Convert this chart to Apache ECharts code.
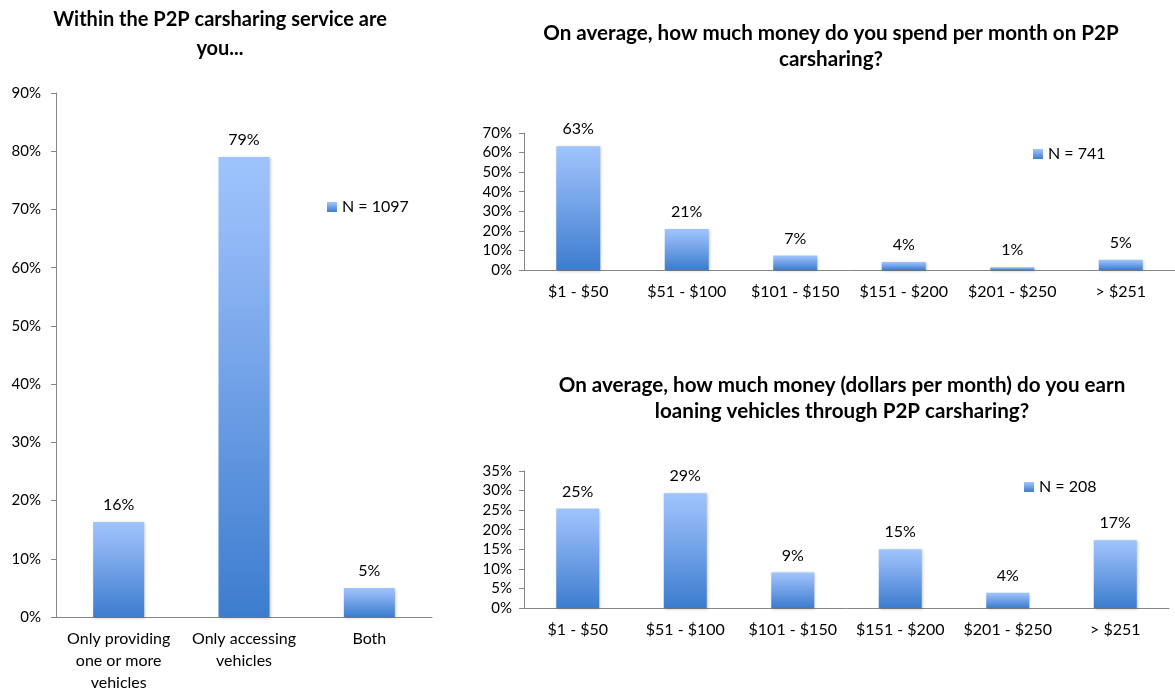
<!DOCTYPE html>
<html>
<head>
<meta charset="utf-8">
<script src="https://cdn.jsdelivr.net/npm/echarts@6/dist/echarts.min.js"></script>
<style>
  html, body { margin: 0; padding: 0; background: #fff; }
  #chart { width: 1175px; height: 694px; }
</style>
</head>
<body>
<div id="chart"></div>
<script>
// 角色分布 (左图)
var roleCategories = ["Only providing\none or more\nvehicles", "Only accessing\nvehicles", "Both"];
var roleValues = [16.3, 79, 5];

// 每月花费 (右上)
var spendCategories = ["$1 - $50", "$51 - $100", "$101 - $150", "$151 - $200", "$201 - $250", "> $251"];
var spendValues = [63.2, 21, 7.4, 4.1, 1.4, 5.2];

// 每月收入 (右下)
var earnCategories = ["$1 - $50", "$51 - $100", "$101 - $150", "$151 - $200", "$201 - $250", "> $251"];
var earnValues = [25.4, 29.3, 9.1, 15, 3.9, 17.3];

var FONT = "Lato, 'Open Sans', sans-serif";
var AXIS_COLOR = "#868686";

var chart = echarts.init(document.getElementById("chart"));

var barColor = {
  type: "linear", x: 0, y: 0, x2: 0, y2: 1,
  colorStops: [
    { offset: 0, color: "#9EC4FD" },
    { offset: 0.15, color: "#94BAF7" },
    { offset: 1, color: "#3C7CCE" },
  ],
};

function xAxisOf(gridIndex, data) {
  return {
    type: "category",
    gridIndex: gridIndex,
    data: data,
    axisLine: { lineStyle: { color: AXIS_COLOR } },
    axisTick: { length: 5, lineStyle: { color: AXIS_COLOR } },
    axisLabel: { color: "#000", fontSize: 16, fontFamily: FONT, margin: 11, lineHeight: 22, interval: 0 },
  };
}

function yAxisOf(gridIndex, max, interval, margin) {
  return {
    type: "value",
    gridIndex: gridIndex,
    min: 0,
    max: max,
    interval: interval,
    splitLine: { show: false },
    axisLine: { show: true, lineStyle: { color: AXIS_COLOR } },
    axisTick: { show: true, length: 5, lineStyle: { color: AXIS_COLOR } },
    axisLabel: { color: "#000", fontSize: 15, fontFamily: FONT, margin: margin, formatter: "{value}%" },
  };
}

function barSeries(name, idx, data, width) {
  return {
    name: name,
    type: "bar",
    xAxisIndex: idx,
    yAxisIndex: idx,
    barWidth: width,
    data: data,
    itemStyle: {
      color: barColor,
      shadowColor: "rgba(0,0,0,0.25)",
      shadowBlur: 3,
      shadowOffsetX: 1,
      shadowOffsetY: 1,
    },
    label: {
      show: true,
      position: "top",
      distance: 9,
      color: "#000",
      fontSize: 16,
      fontFamily: FONT,
      formatter: function (p) { return Math.round(p.value) + "%"; },
    },
  };
}

var titleStyle = { color: "#000", fontSize: 20, fontWeight: "bold", fontFamily: FONT, lineHeight: 29 };
var rightTitleStyle = Object.assign({}, titleStyle, { fontSize: 20.6, lineHeight: 26 });
var legendText = { fontSize: 16, fontFamily: FONT, color: "#000" };

var option = {
  animation: false,
  title: [
    { text: "Within the P2P carsharing service are\nyou...", left: 215, top: 0, textAlign: "center", textStyle: titleStyle },
    { text: "On average, how much money do you spend per month on P2P\ncarsharing?", left: 826, top: 15, textAlign: "center", textStyle: rightTitleStyle },
    { text: "On average, how much money (dollars per month) do you earn\nloaning vehicles through P2P carsharing?", left: 837, top: 367, textAlign: "center", textStyle: rightTitleStyle },
  ],
  legend: [
    { data: ["N = 1097"], icon: "rect", left: 322, top: 194, itemWidth: 10, itemHeight: 10, textStyle: legendText },
    { data: ["N = 741"], icon: "rect", left: 1028, top: 141, itemWidth: 10, itemHeight: 10, textStyle: legendText },
    { data: ["N = 208"], icon: "rect", left: 1019, top: 474, itemWidth: 10, itemHeight: 10, textStyle: legendText },
  ],
  grid: [
    { left: 56, top: 93, width: 376, height: 525 },
    { left: 524, top: 133, width: 656, height: 137 },
    { left: 524, top: 471, width: 645, height: 137 },
  ],
  xAxis: [
    xAxisOf(0, roleCategories),
    xAxisOf(1, spendCategories),
    xAxisOf(2, earnCategories),
  ],
  yAxis: [
    yAxisOf(0, 90, 10, 15),
    yAxisOf(1, 70, 10, 12),
    yAxisOf(2, 35, 5, 12),
  ],
  series: [
    barSeries("N = 1097", 0, roleValues, 51),
    barSeries("N = 741", 1, spendValues, 44),
    barSeries("N = 208", 2, earnValues, 43),
  ],
};

chart.setOption(option);

window.addEventListener("resize", function () {
  chart.resize();
});
</script>
</body>
</html>
